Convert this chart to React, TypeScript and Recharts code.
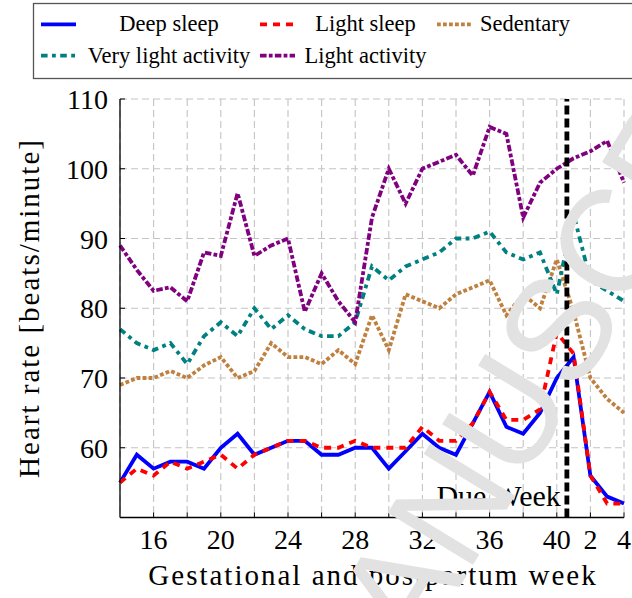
import React from 'react';
import { LineChart, Line, XAxis, YAxis, CartesianGrid, ReferenceLine } from 'recharts';

const weeks = [14, 15, 16, 17, 18, 19, 20, 21, 22, 23, 24, 25, 26, 27, 28, 29, 30, 31, 32, 33, 34, 35, 36, 37, 38, 39, 40, 41, 42, 43, 44];
const deepSleep = [55, 59, 57, 58, 58, 57, 60, 62, 59, 60, 61, 61, 59, 59, 60, 60, 57, 59.5, 62, 60, 59, 63.5, 68, 63, 62, 65, 70, 73, 56, 53, 52];
const lightSleep = [55, 57, 56, 58, 57, 58, 59, 57, 59, 60, 61, 61, 60, 60, 61, 60, 60, 60, 63, 61, 61, 63.5, 68, 64, 64, 65.5, 76.5, 73.5, 56, 52, 52];
const sedentary = [69, 70, 70, 71, 70, 71.8, 73, 70, 71, 75, 73, 73, 72, 74, 72, 79, 74, 82, 81, 80, 82, 83, 84, 79, 82, 80, 87, 79.5, 70, 67, 65];
const veryLightActivity = [77, 75, 74, 75, 72, 76, 78, 76, 80, 77, 79, 77, 76, 76, 78, 86, 84, 86, 87, 88, 90, 90, 91, 88, 87, 88, 82, 93.5, 84, 82.5, 81];
const lightActivity = [89, 85.5, 82.5, 83, 81, 88, 87.5, 96.5, 87.5, 89, 90, 79.5, 85, 81, 78, 93, 100, 95, 100, 101, 102, 99, 106, 105, 93, 98, 100, 101.5, 102.5, 104, 98];

const seriesNames = ['Deep sleep', 'Light sleep', 'Sedentary', 'Very light activity', 'Light activity'];
const xTickValues = [16, 18, 20, 22, 24, 26, 28, 30, 32, 34, 36, 38, 40, 42, 44];
const xTickLabels = ['16', '', '20', '', '24', '', '28', '', '32', '', '36', '', '40', '2', '4'];
const yTickValues = [60, 70, 80, 90, 100, 110];
const yTickLabels = ['60', '70', '80', '90', '100', '110'];
const dueWeek = 40.6;
const dueWeekLabel = 'Due Week';
const xTitle = 'Gestational and postpartum week';
const yTitle = 'Heart rate [beats/minute]';
const watermarkText = 'MANUSCRIPT';

const FONT = "'Liberation Serif', 'Times New Roman', serif";

const seriesStyles = [
  { key: 'deep', color: '#0000ff', dash: undefined as string | undefined },
  { key: 'light', color: '#ff0000', dash: '7 6' },
  { key: 'sed', color: '#bf8040', dash: '3.8 2.2' },
  { key: 'vla', color: '#008080', dash: '6.6 4.4 3.8 4.4' },
  { key: 'la', color: '#800080', dash: '6.6 2.2 3.8 2.2' },
];

const data = weeks.map((w, i) => ({
  week: w,
  deep: deepSleep[i],
  light: lightSleep[i],
  sed: sedentary[i],
  vla: veryLightActivity[i],
  la: lightActivity[i],
}));

const XTickBottom = (props: any) => {
  const { x, y, payload } = props;
  const idx = xTickValues.indexOf(payload.value);
  const label = idx >= 0 ? xTickLabels[idx] : '';
  return (
    <g>
      <line x1={x} x2={x} y1={y} y2={y - 5} stroke="#000" strokeWidth={1} />
      {label ? (
        <text x={x} y={y + 31} textAnchor="middle" fontSize={28} fontFamily={FONT} fill="#000">
          {label}
        </text>
      ) : null}
    </g>
  );
};

const XTickTop = (props: any) => {
  const { x, y } = props;
  return <line x1={x} x2={x} y1={y} y2={y + 5} stroke="#000" strokeWidth={1} />;
};

const YTickLeft = (props: any) => {
  const { x, y, payload } = props;
  const idx = yTickValues.indexOf(payload.value);
  const label = idx >= 0 ? yTickLabels[idx] : '';
  return (
    <g>
      <line x1={x} x2={x + 5} y1={y} y2={y} stroke="#000" strokeWidth={1} />
      <text x={x - 12} y={y + 10} textAnchor="end" fontSize={28} fontFamily={FONT} fill="#000">
        {label}
      </text>
    </g>
  );
};

const YTickRight = (props: any) => {
  const { x, y } = props;
  return <line x1={x} x2={x - 5} y1={y} y2={y} stroke="#000" strokeWidth={1} />;
};

const DueLabel = (p: any) => {
  const vb = p.viewBox || {};
  return (
    <text x={vb.x - 6} y={vb.y + vb.height - 12} textAnchor="end" fontSize={30} fontFamily={FONT} fill="#000">
      {dueWeekLabel}
    </text>
  );
};

const colSampleX = [41, 260, 437];
const colTextX = [169, 365.5, 480];
const colAnchor = ['middle', 'middle', 'start'];
const rowY = [24.3, 55.7];

export default function App() {
  return (
    <div style={{ position: 'absolute', left: 0, top: 0, width: 632, height: 598, overflow: 'hidden', background: '#fff' }}>
      <LineChart width={632} height={598} data={data} margin={{ top: 99, right: 8, bottom: 40.5, left: 60 }}>
        <CartesianGrid stroke="#c4c4c4" strokeWidth={1.1} strokeDasharray="7 4" />
        <XAxis
          dataKey="week"
          type="number"
          domain={[14, 44]}
          ticks={xTickValues}
          interval={0}
          height={40}
          tickSize={0}
          tickMargin={0}
          axisLine={{ stroke: '#000', strokeWidth: 1.3 }}
          tickLine={false}
          tick={<XTickBottom />}
        />
        <XAxis
          xAxisId="top"
          orientation="top"
          dataKey="week"
          type="number"
          domain={[14, 44]}
          ticks={xTickValues}
          interval={0}
          height={0}
          tickSize={0}
          tickMargin={0}
          axisLine={{ stroke: '#000', strokeWidth: 1.3 }}
          tickLine={false}
          tick={<XTickTop />}
        />
        <YAxis
          type="number"
          domain={[50, 110]}
          ticks={yTickValues}
          interval={0}
          width={60}
          tickSize={0}
          tickMargin={0}
          axisLine={{ stroke: '#000', strokeWidth: 1.3 }}
          tickLine={false}
          tick={<YTickLeft />}
        />
        <YAxis
          yAxisId="right"
          orientation="right"
          type="number"
          domain={[50, 110]}
          ticks={yTickValues}
          interval={0}
          width={0}
          tickSize={0}
          tickMargin={0}
          axisLine={{ stroke: '#000', strokeWidth: 1.3 }}
          tickLine={false}
          tick={<YTickRight />}
        />
        {seriesStyles.map((s, i) => (
          <Line
            key={s.key}
            dataKey={s.key}
            name={seriesNames[i]}
            type="linear"
            stroke={s.color}
            strokeWidth={3.8}
            strokeDasharray={s.dash}
            dot={false}
            activeDot={false}
            isAnimationActive={false}
          />
        ))}
        <ReferenceLine
          x={dueWeek}
          stroke="#000"
          strokeWidth={4.8}
          strokeDasharray="9 4"
          label={{ content: DueLabel } as any}
        />
      </LineChart>
      <svg width={632} height={598} style={{ position: 'absolute', left: 0, top: 0, pointerEvents: 'none' }}>
        <rect x={33.5} y={3.5} width={640} height={75} fill="none" stroke="#555" strokeWidth={1.3} />
        {seriesNames.map((name, i) => {
          const col = i % 3;
          const row = Math.floor(i / 3);
          const s = seriesStyles[i];
          return (
            <g key={name}>
              <line
                x1={colSampleX[col]}
                x2={colSampleX[col] + 35}
                y1={rowY[row]}
                y2={rowY[row]}
                stroke={s.color}
                strokeWidth={3.8}
                strokeDasharray={s.dash}
              />
              <text
                x={colTextX[col]}
                y={rowY[row] + 7}
                textAnchor={colAnchor[col] as any}
                fontSize={22.5}
                fontFamily={FONT}
                fill="#000"
              >
                {name}
              </text>
            </g>
          );
        })}
        <text x={373} y={585} textAnchor="middle" fontSize={29} letterSpacing={2} fontFamily={FONT} fill="#000">
          {xTitle}
        </text>
        <text
          transform="translate(39,308) rotate(-90)"
          x={0}
          y={0}
          textAnchor="middle"
          fontSize={29}
          letterSpacing={2}
          fontFamily={FONT}
          fill="#000"
        >
          {yTitle}
        </text>
        <text
          transform="translate(353.5,760.7) rotate(-58.6)"
          x={0}
          y={0}
          fontSize={145}
          fontFamily="'Liberation Sans', Arial, sans-serif"
          fill="#e2e2e2"
        >
          {watermarkText}
        </text>
      </svg>
    </div>
  );
}
